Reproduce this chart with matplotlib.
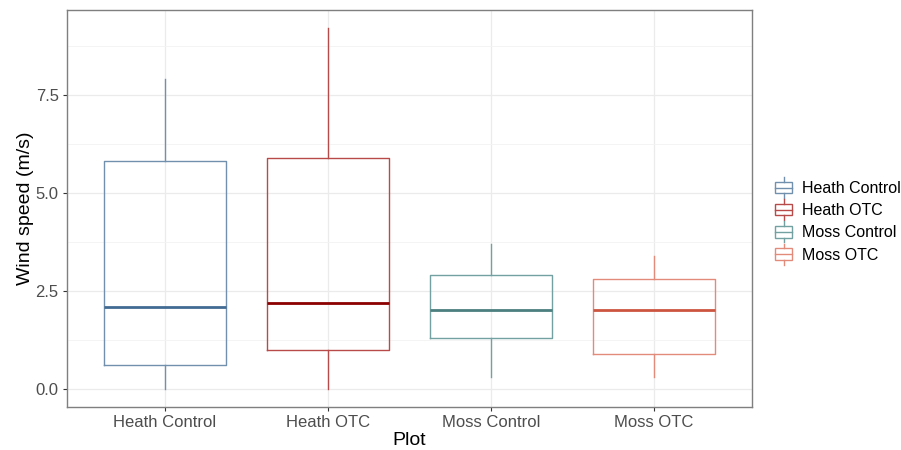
import matplotlib
matplotlib.use("Agg")
import matplotlib.pyplot as plt
from matplotlib.legend_handler import HandlerBase
from matplotlib.patches import Rectangle
from matplotlib.lines import Line2D
from matplotlib.ticker import MultipleLocator, FormatStrFormatter

# box statistics
plots = ["Heath Control", "Heath OTC", "Moss Control", "Moss OTC"]
whisker_lo = [0.0, 0.0, 0.3, 0.3]
q1 = [0.6, 1.0, 1.3, 0.9]
median = [2.1, 2.2, 2.0, 2.0]
q3 = [5.8, 5.9, 2.9, 2.8]
whisker_hi = [7.9, 9.2, 3.7, 3.4]

edge_colors = ["#7190ad", "#b84a4a", "#73a0a0", "#e38b7b"]
median_colors = ["#426b93", "#8b0000", "#4b7f80", "#cc5540"]

plt.rcParams["font.family"] = ["Liberation Sans", "DejaVu Sans"]

fig = plt.figure(figsize=(9.01, 4.5), dpi=100)
ax = fig.add_axes([67 / 901, 1 - 407 / 450, (752 - 67) / 901, (407 - 10) / 450])

stats = []
for i, name in enumerate(plots):
    stats.append(dict(label=name, whislo=whisker_lo[i], q1=q1[i], med=median[i],
                      q3=q3[i], whishi=whisker_hi[i], fliers=[]))

positions = list(range(1, len(plots) + 1))
for i, s in enumerate(stats):
    ax.bxp([s], positions=[positions[i]], widths=0.75, showcaps=False,
           boxprops=dict(color=edge_colors[i], lw=1.0),
           whiskerprops=dict(color=edge_colors[i], lw=1.0),
           medianprops=dict(color=median_colors[i], lw=2.0),
           manage_ticks=False, zorder=3)

ax.set_xlim(0.4, 4.6)
ax.set_ylim(-0.46, 9.66)
ax.set_xticks(positions)
ax.set_xticklabels(plots)
ax.yaxis.set_major_locator(MultipleLocator(2.5))
ax.yaxis.set_minor_locator(MultipleLocator(1.25))
ax.yaxis.set_major_formatter(FormatStrFormatter("%.1f"))

ax.grid(True, which="major", color="#ebebeb", lw=0.9, zorder=0)
ax.grid(True, which="minor", axis="y", color="#f3f3f3", lw=0.6, zorder=0)
ax.set_axisbelow(True)
ax.tick_params(axis="both", which="major", colors="#333333", labelcolor="#4d4d4d",
               labelsize=12, length=3, width=0.8, pad=3)
ax.tick_params(axis="y", which="minor", length=0)
for sp in ax.spines.values():
    sp.set_color("#7f7f7f")
    sp.set_linewidth(1.0)

ax.set_xlabel("Plot", fontsize=14, labelpad=1)
ax.set_ylabel("Wind speed (m/s)", fontsize=14)
ax.yaxis.set_label_coords(-33 / 685, 0.5)


class BoxKey(HandlerBase):
    def __init__(self, color):
        super().__init__()
        self.color = color

    def create_artists(self, legend, orig_handle, xdescent, ydescent, width, height,
                       fontsize, trans):
        cx = -xdescent + width / 2
        bw = width * 0.9
        bh = height * 0.9
        y0 = -ydescent + (height - bh) / 2
        rect = Rectangle((cx - bw / 2, y0), bw, bh, fill=False, ec=self.color,
                         lw=1.0, transform=trans)
        mid = Line2D([cx - bw / 2, cx + bw / 2], [y0 + bh / 2] * 2, color=self.color,
                     lw=1.0, transform=trans)
        top = Line2D([cx, cx], [y0 + bh, -ydescent + height + 3], color=self.color,
                     lw=1.0, transform=trans)
        bot = Line2D([cx, cx], [y0, -ydescent - 3], color=self.color, lw=1.0,
                     transform=trans)
        return [rect, mid, top, bot]


handles = [Rectangle((0, 0), 1, 1) for _ in plots]
leg = fig.legend(handles, plots, loc="center left", bbox_to_anchor=(760 / 901, 0.507),
                 frameon=False, fontsize=11.5, handlelength=1.15, handleheight=0.85,
                 handletextpad=0.55, labelspacing=0.45,
                 handler_map={h: BoxKey(c) for h, c in zip(handles, edge_colors)})

fig.savefig("out.png", dpi=100)
